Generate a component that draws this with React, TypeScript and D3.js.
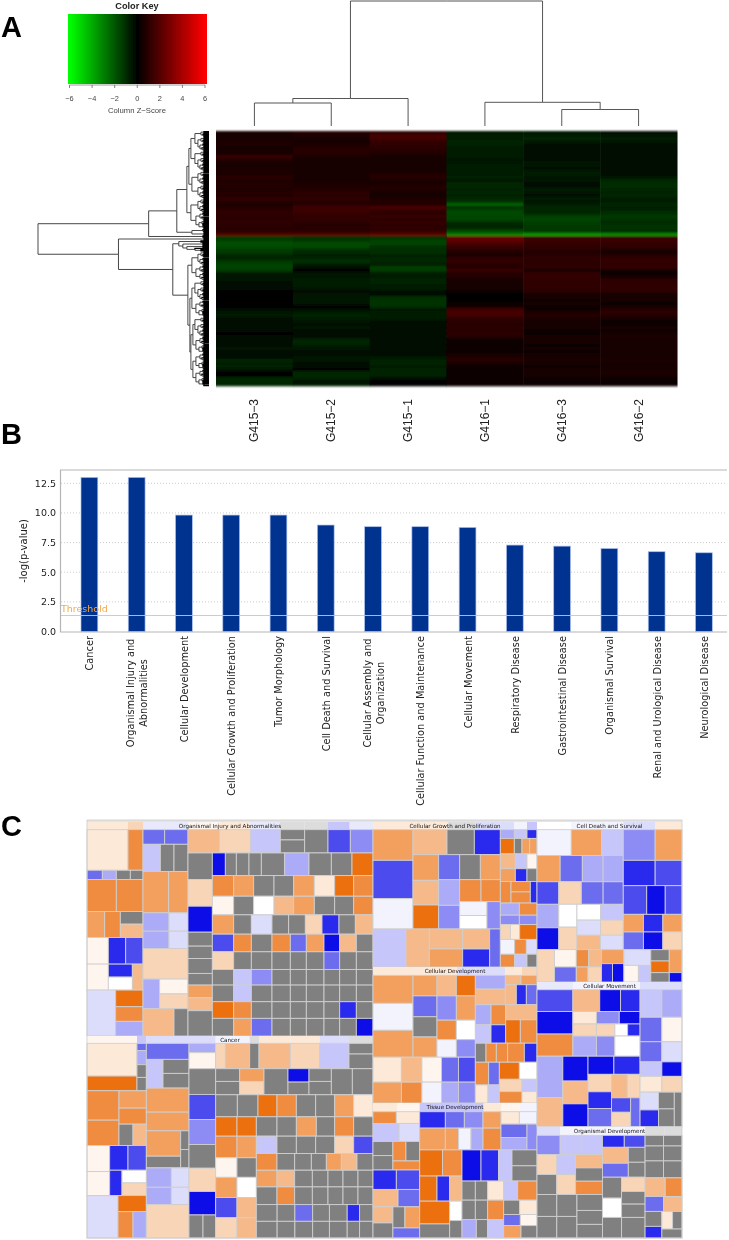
import React from "react";
import * as d3 from "d3";

// ---------- Panel A data ----------
const sampleLabels = ["G415−3", "G415−2", "G415−1", "G416−1", "G416−3", "G416−2"];
const keyTicks = [-6, -4, -2, 0, 2, 4, 6];

const g415_3 = [.5,.5,.6,.7,.7,.6,.5,.6,1.3,.8,.7,.6,.7,.7,.7,1,.7,.8,.8,.7,.9,.8,1.1,.9,.7,.8,1,1.1,1,1,1.1,1,.9,1.1,2,
  -1.3,-1.5,-1.9,-1.7,-1.4,-1.3,-.9,-.8,-1.3,-1.5,-1.6,-1.3,-.5,-.5,-.5,-.4,-.3,-.3,-.1,-.1,-.05,-.05,-.1,-.1,-.3,-.5,-.6,-.4,-.4,-.3,-.2,-.2,-.1,-.2,-.3,-.4,-.4,-.5,-.4,-.3,-.3,-.9,-.7,-.8,-.5,-.05,-.1,-.9,-.9,-.9];
const g415_2 = [.8,.7,.5,.5,.7,.8,.9,.9,.7,.6,.5,.5,.5,.5,.6,.6,.5,.7,.7,.8,1,1,1.1,.9,.9,1.5,1.4,1.3,1.1,1.2,1,.9,.9,1,2,
  -1.2,-1.3,-1.7,-1.7,-1.1,-1,-.7,-.9,-1.2,-.7,-.3,-.1,-.5,-.5,-.6,-.6,-.6,-.5,-.4,-.5,-.5,-.5,-.5,-.1,-.3,-.6,-.8,-.7,-.5,-.4,-.5,-.4,-.3,-.4,-.8,-.9,-.7,-.5,-.4,-.4,-.5,-.5,-.4,-.3,-.1,-.9,-.9,-.8,-.4,-.6];
const g415_1 = [1,1.6,1.5,1.2,1.1,1,.9,.8,.5,.5,.5,.5,.5,.6,.8,.9,.7,.6,.8,.8,.6,.5,.7,.8,.8,1.7,1.2,1,1.3,1,1.2,1,1.1,1.2,2.2,
  -1.2,-1.5,-1.6,-1.2,-1.1,-1.1,-.8,-.9,-.9,-.7,-1.4,-1.3,-.7,-.6,-.8,-.8,-.6,-.7,-.2,-.2,-1.1,-1.2,-1.2,-1.1,-.5,-.6,-.7,-.6,-.3,-.4,-.3,-.4,-.3,-.4,-.3,-.4,-.3,-.4,-.2,-.3,-.5,-.8,-.8,-.7,-.8,-.8,-.8,-.3,-.1,-.1];
const g416_1 = [-.5,-.6,-.7,-.8,-.8,-.7,-.6,-.6,-.6,-.5,-.5,-.7,-.6,-.6,-.7,-.8,-.5,-.9,-.9,-.8,-.9,-.8,-.9,-1.2,-2.2,-1.1,-1.6,-1.7,-1.6,-1.6,-1,-.8,-1,-1.8,-3,
  2.4,2.2,1.7,1.4,1,.8,.7,1.1,1.2,.9,.9,1.3,.8,.9,.6,.6,.5,.5,.2,.1,.1,.1,.2,.3,1.5,1.6,1.5,1,1,.9,1,.9,1,.9,.4,.3,.4,.3,.4,.5,.8,.9,.6,.4,.3,.3,.3,.4,.3,.2];
const g416_3 = [-.5,-.6,-.8,-.7,-.4,-.3,-.3,-.3,-.4,-.4,-.5,-.5,-.4,-.6,-.6,-.5,-.5,-.3,-.4,-.6,-.5,-.4,-.6,-.5,-.7,-.9,-.9,-.9,-1.5,-1.6,-1.4,-1.3,-1.3,-1.3,-3.5,
  1.5,1.4,1.2,1.1,1,.8,1,1.1,1,1,1.1,.5,1.2,1.2,1.1,1.1,1.1,1,1,.6,.5,.4,.5,.2,.2,.7,.8,.7,.6,.5,.5,.4,.4,.6,.5,.5,.4,.5,.4,.5,.6,.7,.6,.4,.5,.5,.5,.4,.3,.3];
const g416_2 = [-.4,-.5,-.7,-.5,-.4,-.4,-.3,-.3,-.4,-.4,-.4,-.4,-.4,-.4,-.4,-.5,-.9,-1,-1,-.9,-.8,-.9,-.7,-.7,-.9,-.7,-.9,-1.1,-1.3,-1.2,-1,-1.2,-1.2,-1.1,-3.2,
  1.4,1.3,1.2,1.1,.8,.6,.9,1.1,1.2,1.1,1.2,.4,.3,.6,1,1,1.1,1.1,1,.6,.5,.6,.4,.5,.9,1,.9,.5,.4,.4,.5,.4,.6,.7,.5,.6,.5,.5,.5,.6,.6,.7,.6,.5,.6,.7,.5,.4,.3,.2];
const heatColumns = [g415_3, g415_2, g415_1, g416_1, g416_3, g416_2];

// Dendrograms: [merge height, ...children], 0 is a leaf
type Tree = number | any[];
const d2: Tree = [5, 0, 0];
const d3c: Tree = [6, 0, [5, 0, 0]];
const d4: Tree = [7, [5, 0, 0], [6, 0, 0]];
const d5: Tree = [8, [5, 0, 0], [6, 0, [5, 0, 0]]];
const d6: Tree = [9, [6, 0, [5, 0, 0]], [7, 0, [5, 0, 0]]];
const d11: Tree = [11, d5, d6];
const d13: Tree = [13, d6, [10, d4, d3c]];
const d16: Tree = [14, d5, d11];
const cladeA1: Tree = [20, [18, d16, d16], [17, d11, d11]];
const cladeA2: Tree = [18, d11, d13];
const cladeB: Tree = [17, d3c, d2];
const cladeN1: Tree = [32, [22, cladeA1, cladeA2], cladeB];
const cladeUpper: Tree = [60, cladeN1, [6, 0, 0]];
const cladeComb: Tree = [30, [8, 0, 0], [26, [6, 0, 0], [22, [6, 0, 0], [14, 0, [8, 0, 0]]]]];
const cladeF: Tree = [17, d11, [13, d6, d6]];
const cladeG: Tree = [19, [17, d16, d13], [18, [16, d16, d13], [16, d13, d13]]];
const cladeLower: Tree = [90, [5, 0, 0], [36, cladeComb, [21, cladeF, cladeG]]];
const rowTree: Tree = [170, cladeUpper, cladeLower];
const colTree: Tree = [125, [27.5, [23, 0, 0], 0], [23.7, 0, [16.5, 0, 0]]];

// ---------- Panel B data ----------
const diseaseLabels = [
  "Cancer", "Organismal Injury and\nAbnormalities", "Cellular Development", "Cellular Growth and Proliferation",
  "Tumor Morphology", "Cell Death and Survival", "Cellular Assembly and\nOrganization", "Cellular Function and Maintenance",
  "Cellular Movement", "Respiratory Disease", "Gastrointestinal Disease", "Organismal Survival",
  "Renal and Urological Disease", "Neurological Disease",
];
const logP = [13, 13, 9.82, 9.82, 9.82, 8.98, 8.84, 8.84, 8.78, 7.29, 7.2, 7.0, 6.73, 6.64];
const barTicks = [0, 2.5, 5, 7.5, 10, 12.5];
const thresholdValue = 1.35;

// ---------- Panel C data ----------
type N = { w: number; o?: "h" | "v"; kids?: N[]; code?: string; band?: boolean; title?: string };
const parse = (s: string): N[] =>
  s.trim().split(/\s+/).map((t) => {
    const m = t.match(/^([\d.]+)([a-zA-Z]\d?)$/)!;
    return { w: +m[1], code: m[2] };
  });
const kidsOf = (a: (string | N)[]) => a.flatMap((k) => (typeof k === "string" ? parse(k) : [k]));
const R = (w: number, ...a: (string | N)[]): N => ({ w, o: "h", kids: kidsOf(a) });
const C = (w: number, ...a: (string | N)[]): N => ({ w, o: "v", kids: kidsOf(a) });
const Group = (title: string, w: number, bandH: number, strips: string, body: N): N => ({
  w, o: "v", kids: [{ w: bandH, o: "h", title, kids: parse(strips).map((k) => ({ ...k, band: true })) }, body],
});

const activationCodes = ["o1","o2","o3","o4","o5","o6","b1","b2","b3","b4","b5","b6","b7","b8","W","u","v","g","l","s"];
const activationColors = ["#fce9d8","#f9d5b8","#f6b98a","#f3a05f","#f08c40","#ec7010","#dcdcfb","#c6c6fa","#ababf8","#8c8cf4","#6c6cef","#4c4cee","#2c2cee","#0808e8","#ffffff","#fef6ee","#f3f3fe","#808080","#dcdcdc","#e9e9fc"];

const organismalInjury = Group("Organismal Injury and Abnormalities", 214, 23,
  "123o1 45o2 135s 95u 90o1 90s 75l 70l 65b2 70s",
  R(620,
    C(168,
      R(122, "123o1 45o5"), R(28, "46b5 42b3 42g 38g"), R(96, "88o5 80o5"),
      R(78, "53o4 47o5", C(68, "38g 40o3")), R(80, "64u 52b7 52b6"),
      R(78, "64u", C(72, "38b7 38W"), "32o3"),
      R(138, "86b1", C(82, "50o6 44o5 44b3"))),
    C(135,
      R(44, "65b5 70b5"), R(82, "52b2 41g 42g"), R(124, "77o4 58o4"),
      R(107, C(78, "55b3 52b3"), C(57, "55b1 52b1")), R(92, "135o2"),
      R(89, "50b3", C(85, "44u 44o2")), R(82, "93o3 42g")),
    C(555,
      R(70, "95o3 92o2 90b2", C(73, "30g 38g"), "70g 67b6 68b4"),
      R(550,
        C(73, "80g 80o2 78b8 42g 37g 45g 35g 38o4 39o3 76g"),
        C(482,
          R(68, "39b8 33g 38g 37g 70g 73b3 67g 62g 63o6"),
          R(62, "64o5 60o4 61g 59g 62o4 61o1 57o6 58o5"),
          R(56, "64u 60g 61W 59o3 62o4 61g 57g 58o5"),
          R(58, "64o4 53g 62b1 50g 50g 50o2 51b7 49g 53o3"),
          R(53, "64b6 53o5 62g 55o5 48b5 53o4 47b8 50o3 50g"),
          R(53, "64o2 53g 62g 55g 48g 53g 47b5 50g 50g"),
          R(47, "64g 53b2 62b4 55g 48g 53g 47g 50g 50g"),
          R(50, "64g 53b2 62g 55g 48g 53g 47g 50g 50g"),
          R(50, "64o6 53o5 62g 55g 48g 53g 47g 50b7 50g"),
          R(53, "64g 53o4 62b5 55g 48g 53g 47g 50g 50b8"))))));

const cancerGroup = Group("Cancer", 202, 22,
  "150u 28b2 128b1 80b1 102v 28l 94o1 88o1 88b1 72l",
  R(583,
    C(178,
      R(142, C(150, "98o1 44o6"), C(28, "22b5 42b3 38g 40g")),
      R(164, C(96, "88o5 76o5"), C(82, "52o4 48o5", R(64, "42g 40o3"))),
      R(150, C(68, "78u 72u"), C(110, R(74, "55b7 55b6"), R(76, "37b7", C(73, "38W 38o2")))),
      R(127, "93b1", C(85, "48o6", R(79, "45o5 40b3")))),
    C(128,
      R(48, "128b5"), R(86, "50b2", C(78, "42g 44g")), R(72, "128o4"), R(56, "128o4"),
      R(111, C(103, "76o4 35g"), C(25, "56g 55g")),
      R(110, C(75, "58b3 52b3"), C(53, "58b1 52b1")), R(100, "128o2")),
    C(552,
      R(76, C(80, "28b3 48u"), "29o2 73o3 28g 94o3 88o2 88b2", C(72, "32g 44g")),
      R(507,
        C(80, "77g 75b6 75b4 71g 70o2 70b8", R(69, "42g 38g")),
        C(472,
          R(78, C(72, "38g 40g"), C(73, "38o4 40o2"), "72g", C(63, "40b8 38g"), C(67, "38g 40g"), "63g 62g"),
          R(66, "65g 62g 57o6 58o5 58g 57g 57o4 58o1"),
          R(58, "64o6 58o6 62g 58g 60o4 55g 57o5 58g"),
          R(305,
            C(122, R(64, "64o5 58o4"), R(58, "64u 58g"), R(60, "64o4 58W"), R(60, "64b6 58o3"), R(60, "64o2 58o3")),
            C(350,
              R(52, "62b2 58g 58g 57g 57o2 58b6"),
              R(50, "62o5 53g 50g 45g 45o4 47o3 48g"),
              R(50, "62o4 53o3 53g 47g 45g 45g 45g"),
              R(53, "62g 53o5 53g 47g 45g 45g 45g"),
              R(50, "62g 53g 53b5 50g 53g 37b7 40g"),
              R(50, "62g 53g 53g 50g 53g 37g 40g"))))))));

const growthGroup = Group("Cellular Growth and Proliferation", 145, 23,
  "224o1 83l 75b1 42b1 38v 30b2",
  R(412,
    C(382,
      R(298,
        C(120, "92o4 115b6 91v"),
        C(262,
          R(75, "102o3 82g 78b7"),
          R(223,
            C(77, "77o4 74o3 72o6"),
            C(63, "76b5 78b3 72b4"),
            C(122, R(75, "62g 60o4"), R(66, "64o5 58o5"), R(82, C(82, "42v 41W"), "40b4"))))),
      R(114, "99b2 70o3", C(181, R(60, "100o3 81o3"), R(54, "100o4 81b7")), "32b5")),
    C(110,
      R(26, "42b3 38b2 30b7"), R(46, "42o6 23g 23o4 22o4"), R(44, "45o3 35b2 30u"), R(38, "45o4 35b7 30g"),
      R(64, "32o5", C(58, "30o5 32o5"), "20b7"),
      R(36, "57b3 53o5"), R(28, "57b4 53b4"),
      R(44, "30o2 28o1 52o6"), R(44, "43v 35o5 32b1"), R(38, "43o5 37b2 30g"))));

const developmentGroup = Group("Cellular Development", 136, 25,
  "120o1 132o1 55b1 90b1 50o1 45o2",
  R(382,
    C(307,
      R(243,
        C(120, "83o4 80v 80o4"),
        C(72, "61o4 62b5 60g 60o4"),
        C(58, "61o3 72b4 58o5 52v"),
        C(57, "61o6 72o4 58W 52b4")),
      R(74, "84o1 61o3 58u 50b5 50b6"),
      R(62, "84o4 61o5 58v 50b3 50b4")),
    C(185,
      R(88, C(90, "41b3 47o3"), C(95, R(28, "47o3 48o4"), R(60, "33o3 30b7 32b5"))),
      R(115, C(47, "60b3 55b2"), C(44, "60o5 55b7"), C(94, "45o3", R(70, "44o6 50o5"))),
      R(57, "32g 31o5 34o5 50o5 38b7"),
      R(122,
        C(72, R(68, "40o5 32b5"), R(54, "38o1 34b2")),
        C(113, R(51, "60o6 53W"), R(71, C(68, "37o2 34o5"), C(45, "37b2 34o1")))))));

const tissueGroup = Group("Tissue Development", 135, 26,
  "72o1 68u 192b2 52o1 55u 53v",
  R(377,
    C(140,
      R(35, "70o5 70o1"), R(54, "76b2 60b1"),
      R(85, C(58, "42g 43g"), C(78, R(58, "38o5 40g"), "27o5")),
      R(58, "68b7 68b6"), R(52, "73o3 63b5"),
      R(93, C(58, "48o3 45g"), C(78, R(63, "35g 43o4"), "30b5"))),
    C(352,
      R(114,
        C(244, R(49, "77b7 57b5 56b4 54o4"), R(65, "77o4 40o4 37v 36b3 54o5")),
        C(108, R(37, "55o1 53v"), R(77, C(78, "40b5 37b3"), "30b4"))),
      R(263,
        C(127, R(78, "67o6 57o5"), R(75, "52o6 38b7 37o3"), R(110, C(90, "68o6 42g"), C(37, "58W 52g"))),
        C(225,
          R(93, "57b8 53b7 40b2", C(75, "46g 44g")),
          R(57, "40g 37g 48o1 42b2 58o5"),
          R(113,
            C(77, R(58, "40g 37g"), R(55, "43b3 34g")),
            C(48, "58o5 55b2"),
            C(100, R(43, "48g 52o1"), R(33, "50b5 50u"), R(37, "52o4 48g"))))))));

const deathGroup = Group("Cell Death and Survival", 160, 23,
  "102W 90v 65v 95b1 80o1",
  C(457,
    R(360,
      C(257,
        R(77, "102v 90o4 65b2"),
        R(78, "69o4 66b5 62b3 60b3"),
        R(67, "65b6 67o2 65b5 60b5"),
        R(135, C(65, "70b3 65b8"), C(54, "68W 67o2"), C(138, R(47, "70W 68b2"), R(45, "70b1 68o2"), R(43, "70o3 68b1")))),
      C(175,
        R(92, "95b4 80o4"), R(76, "95b7 80b6"), R(86, "70b6 55b8 50b6"),
        R(53, "60o4 58b7 57o4"), R(53, "60b5 58b8 57o2"))),
    R(97, "52o2",
      C(65, "52u 45b5"),
      C(75, R(52, "37o5 38o3"), R(45, "35o4 40o2")),
      C(67, "42o4", R(55, "33b7 34b8")),
      C(80, "47b1", R(50, "43u 37b2")),
      C(55, "34g 35o6 28g"),
      C(38, "69o4 28b8"))));

const movementGroup = Group("Cellular Movement", 144.7, 23,
  "107s 200v 125b1",
  R(408,
    C(307,
      R(65, "107b6 80o3 62b8 58b7"),
      R(133,
        C(107, "67b8 66o5"),
        C(200, R(37, "70o1 68b4 62b8"), R(36, "70o2 55o2 38W 37b7"), R(60, "70b3 55b4 75W"))),
      R(210,
        C(77, "123b3 87o3"),
        C(75, "74b8 68o3 68b8"),
        C(155, R(54, "77b8 78b7"),
          R(156, C(70, "52o2 50b7 54b5"), C(85, R(70, "47o3 38o2"), R(86, C(57, "43b6 43o2"), "28b5")))))),
    C(125,
      R(82, "65b2 60b3"), R(73, "65b5 60u"), R(60, "65b5 60b1"), R(43, "65b2 60b8"), R(47, "65o1 60o2"),
      R(103, C(55, "53b1 50b7"), C(47, "50g 53g"), "23g"))));

const orgDevGroup = Group("Organismal Development", 111.3, 26,
  "69b1 129v 125v 57l 53l",
  R(309,
    C(195,
      R(58, "69b4 63b2 63b2"),
      R(120, C(59, "60o2 60g"), C(56, "60b2 60o2"), C(80, "40o3 40g 40o5")),
      R(131, C(59, "66g 65g"), C(60, "66g 65g"), C(76, "48g 42g 41g"))),
    C(127,
      R(36, "65b7 62b6"),
      R(90, C(77, "48o3 42b5"), C(50, "45g 45g")),
      R(183, C(57, "63g 58W 62g"), C(70, "43o2 38g 40g 62g"))),
    C(110,
      R(128, C(55, "32g 45g 51g"), C(55, "32g 45g 51g")),
      R(56, "60o3 50o5"), R(45, "55b5 55o3"),
      R(80, C(50, "45g 35b7"), C(60, R(53, "32o1 28g"), "27g")))));

const treemapRoot: N = R(1,
  C(286, organismalInjury, cancerGroup),
  C(164, growthGroup, developmentGroup, tissueGroup),
  C(145, deathGroup, movementGroup, orgDevGroup));

// ---------- helpers ----------
const treeKids = (d: any) => (Array.isArray(d) ? d.slice(1) : null);

function dendroPaths(tree: Tree, leafPos: (i: number) => number, hPos: (h: number) => number, horizontal: boolean) {
  const root = d3.hierarchy<any>(tree, treeKids);
  let i = 0;
  const pos = new Map<any, { a: number; b: number }>();
  root.eachAfter((n) => {
    if (!n.children) pos.set(n, { a: leafPos(i++), b: hPos(0) });
    else {
      const first = pos.get(n.children[0])!.a;
      const last = pos.get(n.children[n.children.length - 1])!.a;
      pos.set(n, { a: (first + last) / 2, b: hPos(n.data[0]) });
    }
  });
  const inner = d3.path();
  const tips = d3.path();
  const mv = (p: any, a: number, b: number) => (horizontal ? p.moveTo(b, a) : p.moveTo(a, b));
  const ln = (p: any, a: number, b: number) => (horizontal ? p.lineTo(b, a) : p.lineTo(a, b));
  root.each((n) => {
    if (!n.children) return;
    const me = pos.get(n)!;
    n.children.forEach((c) => {
      const cp = pos.get(c)!;
      const p = c.children ? inner : tips;
      mv(p, cp.a, cp.b);
      ln(p, cp.a, me.b);
      ln(p, me.a, me.b);
    });
  });
  return { inner: inner.toString(), tips: tips.toString() };
}

const leafCount = (tree: Tree) => d3.hierarchy<any>(tree, treeKids).leaves().length;

const MONO = "DejaVu Sans";
const HELV = "Liberation Sans";

export default function App() {
  const heatX = d3.scaleBand<number>().domain(d3.range(6)).range([216, 677]);
  const heatY = d3.scaleBand<number>().domain(d3.range(g415_3.length)).range([131, 386]);
  const zColor = d3.scaleLinear<string>().domain([-6, 0, 6]).range(["#00ff00", "#000000", "#ff0000"]);
  const keyX = d3.scaleLinear().domain([-6, 6]).range([69.5, 205]);
  const keyStops = d3.range(-6.15, 6.16, 0.25);

  const nLeaves = leafCount(rowTree);
  const rowLeaf = d3.scaleLinear().domain([0, nLeaves - 1]).range([131.5, 385.5]);
  const rowH = d3.scaleLinear().domain([0, 170]).range([209, 38]);
  const colH = d3.scaleLinear().domain([0, 125]).range([126, 1]);
  const colLeaf = (i: number) => heatX(i)! + heatX.bandwidth() / 2;
  const rowPaths = dendroPaths(rowTree, (i) => rowLeaf(i), (h) => rowH(h), true);
  const colPaths = dendroPaths(colTree, colLeaf, (h) => colH(h), false);

  const barX = d3.scaleBand<string>().domain(diseaseLabels).range([65.75, 727.55]).paddingInner(0.645).paddingOuter(0.3225);
  const barY = d3.scaleLinear().domain([0, 12.5]).range([631.5, 483.3]);

  const tmRoot = d3.hierarchy<N>(treemapRoot, (d) => d.kids || null).count();
  const tile = (node: any, x0: number, y0: number, x1: number, y1: number) => {
    const total = d3.sum(node.children as any[], (c: any) => c.data.w);
    let pos = node.data.o === "h" ? x0 : y0;
    node.children.forEach((c: any) => {
      if (node.data.o === "h") {
        const w = ((x1 - x0) * c.data.w) / total;
        c.x0 = pos; c.x1 = pos + w; c.y0 = y0; c.y1 = y1; pos += w;
      } else {
        const h = ((y1 - y0) * c.data.w) / total;
        c.y0 = pos; c.y1 = pos + h; c.x0 = x0; c.x1 = x1; pos += h;
      }
    });
  };
  const tm = d3.treemap<N>().size([595, 416]).tile(tile as any)(tmRoot);
  const activation = d3.scaleOrdinal<string, string>().domain(activationCodes).range(activationColors);
  const cells = tm.leaves();
  const titled = tm.descendants().filter((n) => n.data.title);

  return (
    <svg width={729} height={1240} style={{ position: "absolute", left: 0, top: 0, background: "#fff" }} xmlns="http://www.w3.org/2000/svg">
      <defs>
        <linearGradient id="key">
          {keyStops.map((z) => (
            <stop key={z} offset={(z + 6.15) / 12.3} stopColor={zColor(Math.max(-6, Math.min(6, z)))} />
          ))}
        </linearGradient>
        <filter id="soft" x="0" y="0" width="729" height="1240" filterUnits="userSpaceOnUse">
          <feGaussianBlur stdDeviation="0.4" />
        </filter>
        <filter id="heatBlur" x="205" y="120" width="485" height="280" filterUnits="userSpaceOnUse">
          <feGaussianBlur stdDeviation="0.5 1.0" />
        </filter>
      </defs>

      <g filter="url(#soft)">
        {[["A", 37], ["B", 444], ["C", 836]].map(([t, y]) => (
          <text key={t as string} x={1} y={y as number} fontFamily={HELV} fontWeight="bold" fontSize={29} fill="#000">{t}</text>
        ))}

        <text x={137} y={9} textAnchor="middle" fontFamily={HELV} fontWeight="bold" fontSize={9.2} fill="#222">Color Key</text>
        <rect x={68} y={14} width={139} height={70} fill="url(#key)" />
        <path d={`M${keyX(-6)},85H${keyX(6)}`} fill="none" stroke="#555" strokeWidth={0.6} />
        {keyTicks.map((t) => (
          <g key={t}>
            <line x1={keyX(t)} x2={keyX(t)} y1={85} y2={88} stroke="#555" strokeWidth={0.7} />
            <text x={keyX(t)} y={101} textAnchor="middle" fontFamily={HELV} fontSize={7.4} fill="#444">{t < 0 ? `−${-t}` : t}</text>
          </g>
        ))}
        <text x={137} y={113} textAnchor="middle" fontFamily={HELV} fontSize={7.7} fill="#444">Column Z−Score</text>

        <g filter="url(#heatBlur)">
          {heatColumns.map((col, c) =>
            col.map((v, r) => (
              <rect key={`${c}-${r}`} x={heatX(c)} y={heatY(r)} width={heatX.bandwidth() + 0.5} height={heatY.bandwidth() + 0.3} fill={zColor(v)} />
            ))
          )}
        </g>
        <path d={rowPaths.inner} fill="none" stroke="#333" strokeWidth={0.9} />
        <path d={rowPaths.tips} fill="none" stroke="#000" strokeWidth={1.25} />
        <path d={colPaths.inner} fill="none" stroke="#444" strokeWidth={0.9} />
        <path d={colPaths.tips} fill="none" stroke="#444" strokeWidth={0.9} />
        {sampleLabels.map((s, i) => (
          <text key={s} transform={`translate(${colLeaf(i) + 4},399) rotate(-90)`} textAnchor="end" fontFamily={HELV} fontSize={12} fill="#222">{s}</text>
        ))}

        {barTicks.map((t) => (
          <g key={t}>
            {t > 0 && <line x1={61} x2={727} y1={barY(t)} y2={barY(t)} stroke="#ccc" strokeDasharray="1 2" />}
            <text x={56} y={barY(t) + 3.5} textAnchor="end" fontFamily={MONO} fontSize={9.5} fill="#222">{t.toFixed(1)}</text>
          </g>
        ))}
        <path d="M727,470H60.5V632H727" fill="none" stroke="#b5b5b5" strokeWidth={1.2} />
        {diseaseLabels.map((l, i) => (
          <rect key={l} x={barX(l)} y={barY(logP[i])} width={barX.bandwidth()} height={barY(0) - barY(logP[i])} fill="#00308f" stroke="#a9c0ee" strokeWidth={0.7} />
        ))}
        <line x1={61} x2={727} y1={barY(thresholdValue)} y2={barY(thresholdValue)} stroke="#f5be78" strokeOpacity={0.9} strokeWidth={1.2} />
        <text x={61} y={612} fontFamily={MONO} fontSize={9.5} fill="#f3a94a">Threshold</text>
        <text transform="translate(27,551) rotate(-90)" textAnchor="middle" fontFamily={MONO} fontSize={10} fill="#222">-log(p-value)</text>
        {diseaseLabels.map((l) => {
          const lines = l.split("\n");
          const cx = barX(l)! + barX.bandwidth() / 2;
          if (lines.length === 1) {
            return (
              <text key={l} transform={`translate(${cx + 4},636) rotate(-90)`} textAnchor="end" fontFamily={MONO} fontSize={9.8} fill="#222">{l}</text>
            );
          }
          return lines.map((t, k) => (
            <text key={t} transform={`translate(${cx + 4 + (k - 0.5) * 13},693) rotate(-90)`} textAnchor="middle" fontFamily={MONO} fontSize={9.8} fill="#222">{t}</text>
          ));
        })}

        <g transform="translate(87,822)">
          <rect x={0} y={-2} width={595} height={2} fill="#e3e3e3" />
          {cells.map((n, i) => (
            <rect
              key={i}
              x={n.x0}
              y={n.y0}
              width={n.x1 - n.x0}
              height={n.y1 - n.y0}
              fill={activation(n.data.code!)}
              stroke={n.data.band ? "none" : "#cfcfcf"}
              strokeWidth={0.9}
            />
          ))}
          {titled.map((n) => (
            <text key={n.data.title} x={(n.x0 + n.x1) / 2} y={(n.y0 + n.y1) / 2 + 2} textAnchor="middle" fontFamily={MONO} fontSize={5.6} fill="#111">{n.data.title}</text>
          ))}
          <rect x={0} y={-2} width={595} height={418} fill="none" stroke="#ccc" strokeWidth={0.8} />
        </g>
      </g>
    </svg>
  );
}
